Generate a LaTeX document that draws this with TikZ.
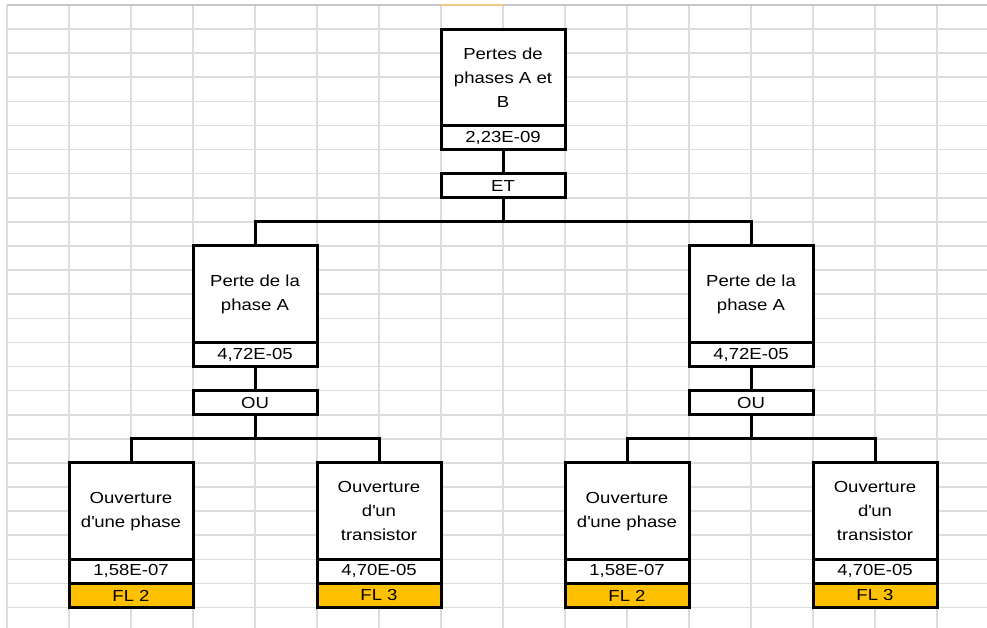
\documentclass[tikz,border=0pt]{standalone}
\usepackage{fontspec}
\setmainfont[FakeStretch=1.16]{Liberation Sans}
\definecolor{gridgray}{RGB}{218,220,222}
\definecolor{flgold}{RGB}{255,192,0}
\definecolor{selorange}{RGB}{242,200,130}

\begin{document}
\begin{tikzpicture}[x=1pt,y=-1pt,
  cell/.style={draw,fill=white,line width=3pt,inner sep=0pt,minimum width=124pt,
    align=center,font=\fontsize{16}{24}\selectfont},
  mainbox/.style={cell,minimum height=96.4pt},
  valbox/.style={cell,minimum height=24.1pt},
  flbox/.style={valbox,fill=flgold},
  link/.style={line width=3pt}]
\useasboundingbox[fill=white] (0,0) rectangle (987,628);

% feuille
\foreach \i in {0,...,15}
  \draw[gridgray,line width=1.6pt] (7+62*\i,5) -- (7+62*\i,628);
\foreach \j in {1,...,25}
  \draw[gridgray,line width=1.6pt] (7,5+24.1*\j) -- (987,5+24.1*\j);
\draw[gray!45,line width=1.6pt] (7,5) -- (987,5);
\draw[selorange,line width=1.6pt] (441,5) -- (503,5);

% sommet
\node[mainbox] (top) at (503,77.3) {Pertes de\\phases A et\\B};
\node[valbox] (topv) at (503,137.55) {2,23E-09};
\node[valbox] (et) at (503,185.75) {ET};
\coordinate (busT) at (503,221.9);

% phase A (gauche)
\node[mainbox] (mL) at (255,294.2) {Perte de la\\phase A};
\node[valbox] (mLv) at (255,354.45) {4,72E-05};
\node[valbox] (ouL) at (255,402.65) {OU};
\coordinate (busL) at (255,438.8);

% phase A (droite)
\node[mainbox] (mR) at (751,294.2) {Perte de la\\phase A};
\node[valbox] (mRv) at (751,354.45) {4,72E-05};
\node[valbox] (ouR) at (751,402.65) {OU};
\coordinate (busR) at (751,438.8);

% feuilles
\node[mainbox] (b1) at (131,511.1) {Ouverture\\d\textquotesingle une phase};
\node[valbox] (b1v) at (131,571.35) {1,58E-07};
\node[flbox] (b1f) at (131,595.45) {FL 2};

\node[mainbox] (b2) at (379,511.1) {Ouverture\\d\textquotesingle un\\transistor};
\node[valbox] (b2v) at (379,571.35) {4,70E-05};
\node[flbox] (b2f) at (379,595.45) {FL 3};

\node[mainbox] (b3) at (627,511.1) {Ouverture\\d\textquotesingle une phase};
\node[valbox] (b3v) at (627,571.35) {1,58E-07};
\node[flbox] (b3f) at (627,595.45) {FL 2};

\node[mainbox] (b4) at (875,511.1) {Ouverture\\d\textquotesingle un\\transistor};
\node[valbox] (b4v) at (875,571.35) {4,70E-05};
\node[flbox] (b4f) at (875,595.45) {FL 3};

% liaisons
\draw[link] (topv.south) -- (et.north);
\draw[link] (et.south) -- (busT);
\draw[link] (mL.north) |- (busT) -| (mR.north);

\draw[link] (mLv.south) -- (ouL.north);
\draw[link] (ouL.south) -- (busL);
\draw[link] (b1.north) |- (busL) -| (b2.north);

\draw[link] (mRv.south) -- (ouR.north);
\draw[link] (ouR.south) -- (busR);
\draw[link] (b3.north) |- (busR) -| (b4.north);
\end{tikzpicture}
\end{document}
